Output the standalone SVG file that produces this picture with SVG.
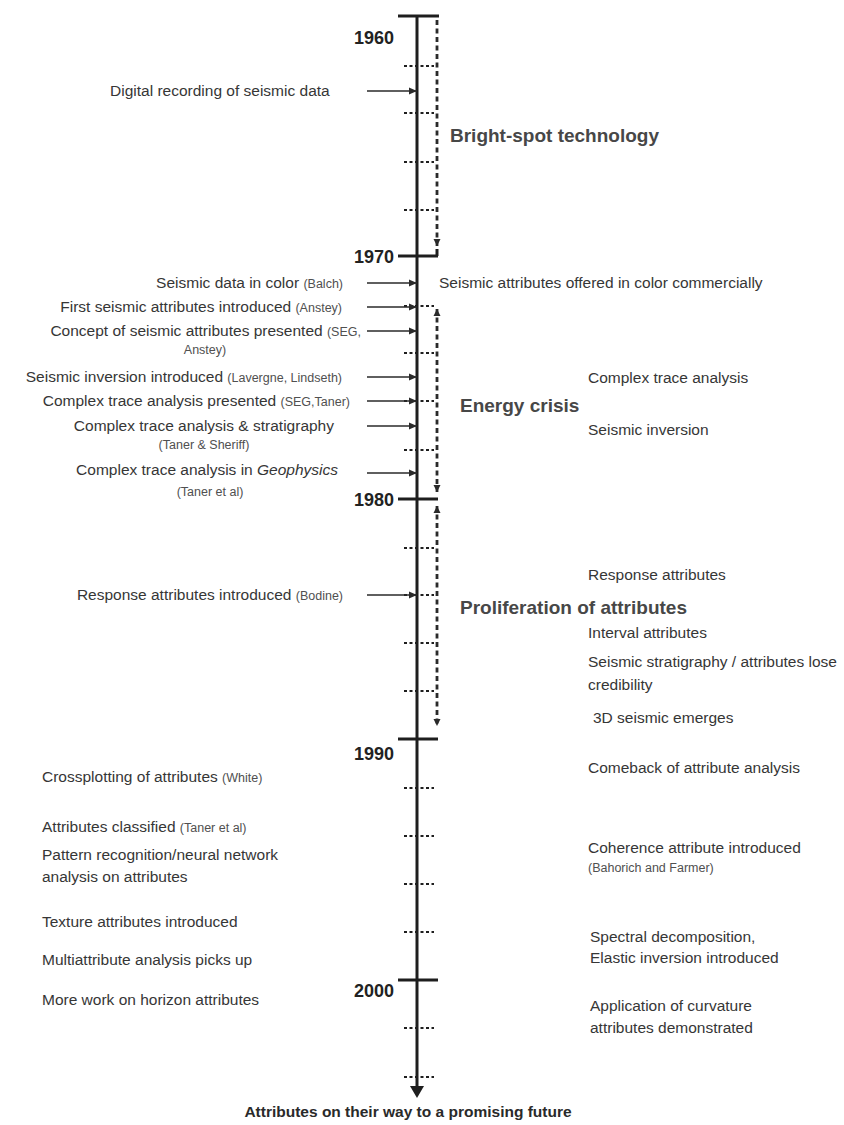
<svg xmlns="http://www.w3.org/2000/svg" width="844" height="1125" viewBox="0 0 844 1125">
<style>
.t{font-family:"Liberation Sans",Arial,sans-serif;font-size:15.5px;fill:#363636}
.s{font-size:12.5px;fill:#505050}
.b{font-weight:bold;font-size:19px;fill:#474747}
.yr{font-family:"Liberation Sans",Arial,sans-serif;font-weight:bold;font-size:18px;fill:#222}
.ft{font-family:"Liberation Sans",Arial,sans-serif;font-weight:bold;font-size:15.5px;fill:#2a2a2a}
.axis{stroke:#1e1e1e;stroke-width:3;fill:none}
.major{stroke:#1e1e1e;stroke-width:3;fill:none}
.minor{stroke:#1e1e1e;stroke-width:2.2;stroke-dasharray:3 2.5;fill:none}
.span{stroke:#2a2a2a;stroke-width:2.8;stroke-dasharray:5 3.5;fill:none}
.ev{stroke:#2a2a2a;stroke-width:1.6;fill:none}
</style>
<defs>
<marker id="ah" markerUnits="userSpaceOnUse" markerWidth="9" markerHeight="8" refX="8" refY="4" orient="auto">
<path d="M0,0.5 L8,4 L0,7.5 Z" fill="#2a2a2a"/>
</marker>
<marker id="sh" markerUnits="userSpaceOnUse" markerWidth="8" markerHeight="8" refX="7" refY="4" orient="auto-start-reverse">
<path d="M0,0.5 L7,4 L0,7.5 Z" fill="#2a2a2a"/>
</marker>
<marker id="axh" markerUnits="userSpaceOnUse" markerWidth="14" markerHeight="14" refX="2" refY="7" orient="auto">
<path d="M0,0 L12,7 L0,14 Z" fill="#1e1e1e"/>
</marker>
</defs>

<g id="timeline">
<line class="axis" x1="417" y1="15" x2="417" y2="1088" marker-end="url(#axh)"/>
<line class="major" x1="398" y1="16" x2="439" y2="16"/>
<line class="major" x1="398" y1="256" x2="438" y2="256"/>
<line class="major" x1="437" y1="256" x2="437" y2="249"/>
<line class="major" x1="398" y1="499" x2="438" y2="499"/>
<line class="major" x1="398" y1="739" x2="438" y2="739"/>
<line class="major" x1="398" y1="980" x2="438" y2="980"/>
<g id="minor-ticks">
<line class="minor" x1="404" y1="66" x2="434" y2="66"/>
<line class="minor" x1="404" y1="113" x2="434" y2="113"/>
<line class="minor" x1="404" y1="162" x2="434" y2="162"/>
<line class="minor" x1="404" y1="210" x2="434" y2="210"/>
<line class="minor" x1="404" y1="306" x2="434" y2="306"/>
<line class="minor" x1="404" y1="353" x2="434" y2="353"/>
<line class="minor" x1="404" y1="401" x2="434" y2="401"/>
<line class="minor" x1="404" y1="450" x2="434" y2="450"/>
<line class="minor" x1="404" y1="548" x2="434" y2="548"/>
<line class="minor" x1="404" y1="595" x2="434" y2="595"/>
<line class="minor" x1="404" y1="643" x2="434" y2="643"/>
<line class="minor" x1="404" y1="691" x2="434" y2="691"/>
<line class="minor" x1="404" y1="788" x2="434" y2="788"/>
<line class="minor" x1="404" y1="836" x2="434" y2="836"/>
<line class="minor" x1="404" y1="884" x2="434" y2="884"/>
<line class="minor" x1="404" y1="932" x2="434" y2="932"/>
<line class="minor" x1="404" y1="1028" x2="434" y2="1028"/>
<line class="minor" x1="404" y1="1077" x2="434" y2="1077"/>
</g>
<text class="yr" x="394" y="44" text-anchor="end">1960</text>
<text class="yr" x="394" y="263" text-anchor="end">1970</text>
<text class="yr" x="394" y="506" text-anchor="end">1980</text>
<text class="yr" x="394" y="760" text-anchor="end">1990</text>
<text class="yr" x="394" y="997" text-anchor="end">2000</text>
</g>

<g id="connectors">
<line class="span" x1="437" y1="20" x2="437" y2="246" marker-end="url(#sh)"/>
<line class="span" x1="437" y1="309" x2="437" y2="492" marker-start="url(#sh)" marker-end="url(#sh)"/>
<line class="span" x1="437" y1="506" x2="437" y2="726" marker-start="url(#sh)" marker-end="url(#sh)"/>
<line class="ev" x1="367" y1="91" x2="417" y2="91" marker-end="url(#ah)"/>
<line class="ev" x1="367" y1="283" x2="417" y2="283" marker-end="url(#ah)"/>
<line class="ev" x1="367" y1="307" x2="417" y2="307" marker-end="url(#ah)"/>
<line class="ev" x1="367" y1="331" x2="417" y2="331" marker-end="url(#ah)"/>
<line class="ev" x1="367" y1="377" x2="417" y2="377" marker-end="url(#ah)"/>
<line class="ev" x1="367" y1="401" x2="417" y2="401" marker-end="url(#ah)"/>
<line class="ev" x1="367" y1="426" x2="417" y2="426" marker-end="url(#ah)"/>
<line class="ev" x1="367" y1="473" x2="417" y2="473" marker-end="url(#ah)"/>
<line class="ev" x1="367" y1="595" x2="417" y2="595" marker-end="url(#ah)"/>
</g>

<g id="era-bright-spot"><text class="t b" x="450" y="142">Bright-spot technology</text></g>
<g id="era-energy-crisis"><text class="t b" x="460" y="412">Energy crisis</text></g>
<g id="era-proliferation"><text class="t b" x="460" y="614">Proliferation of attributes</text></g>

<g id="ev-digital"><text class="t" x="110" y="96">Digital recording of seismic data</text></g>
<g id="ev-color"><text class="t" x="343" y="288" text-anchor="end">Seismic data in color <tspan class="s">(Balch)</tspan></text></g>
<g id="ev-first"><text class="t" x="342" y="312" text-anchor="end">First seismic attributes introduced <tspan class="s">(Anstey)</tspan></text></g>
<g id="ev-concept"><text class="t" x="361" y="336" text-anchor="end">Concept of seismic attributes presented <tspan class="s">(SEG,</tspan></text>
<text class="t s" x="205" y="354" text-anchor="middle">Anstey)</text></g>
<g id="ev-inversion"><text class="t" x="342" y="382" text-anchor="end">Seismic inversion introduced <tspan class="s">(Lavergne, Lindseth)</tspan></text></g>
<g id="ev-complex-presented"><text class="t" x="350" y="406" text-anchor="end">Complex trace analysis presented <tspan class="s">(SEG,Taner)</tspan></text></g>
<g id="ev-complex-strat"><text class="t" x="334" y="431" text-anchor="end">Complex trace analysis &amp; stratigraphy</text>
<text class="t s" x="204" y="449" text-anchor="middle">(Taner &amp; Sheriff)</text></g>
<g id="ev-geophysics"><text class="t" x="338" y="475" text-anchor="end">Complex trace analysis in <tspan font-style="italic">Geophysics</tspan></text>
<text class="t s" x="210" y="496" text-anchor="middle">(Taner et al)</text></g>
<g id="ev-response"><text class="t" x="343" y="600" text-anchor="end">Response attributes introduced <tspan class="s">(Bodine)</tspan></text></g>

<g id="r-color-commercial"><text class="t" x="439" y="288">Seismic attributes offered in color commercially</text></g>
<g id="r-complex"><text class="t" x="588" y="383">Complex trace analysis</text></g>
<g id="r-inversion"><text class="t" x="588" y="435">Seismic inversion</text></g>
<g id="r-response"><text class="t" x="588" y="580">Response attributes</text></g>
<g id="r-interval"><text class="t" x="588" y="638">Interval attributes</text></g>
<g id="r-credibility"><text class="t" x="588" y="667">Seismic stratigraphy / attributes lose</text>
<text class="t" x="588" y="690">credibility</text></g>
<g id="r-3d"><text class="t" x="593" y="723">3D seismic emerges</text></g>
<g id="r-comeback"><text class="t" x="588" y="773">Comeback of attribute analysis</text></g>
<g id="r-coherence"><text class="t" x="588" y="853">Coherence attribute introduced</text>
<text class="t s" x="588" y="872">(Bahorich and Farmer)</text></g>
<g id="r-spectral"><text class="t" x="590" y="942">Spectral decomposition,</text>
<text class="t" x="590" y="963">Elastic inversion introduced</text></g>
<g id="r-curvature"><text class="t" x="590" y="1011">Application of curvature</text>
<text class="t" x="590" y="1033">attributes demonstrated</text></g>

<g id="l-crossplot"><text class="t" x="42" y="782">Crossplotting of attributes <tspan class="s">(White)</tspan></text></g>
<g id="l-classified"><text class="t" x="42" y="832">Attributes classified <tspan class="s">(Taner et al)</tspan></text></g>
<g id="l-pattern"><text class="t" x="42" y="860">Pattern recognition/neural network</text>
<text class="t" x="42" y="882">analysis on attributes</text></g>
<g id="l-texture"><text class="t" x="42" y="927">Texture attributes introduced</text></g>
<g id="l-multi"><text class="t" x="42" y="965">Multiattribute analysis picks up</text></g>
<g id="l-horizon"><text class="t" x="42" y="1005">More work on horizon attributes</text></g>

<g id="future"><text class="ft" x="408" y="1117" text-anchor="middle">Attributes on their way to a promising future</text></g>
</svg>
